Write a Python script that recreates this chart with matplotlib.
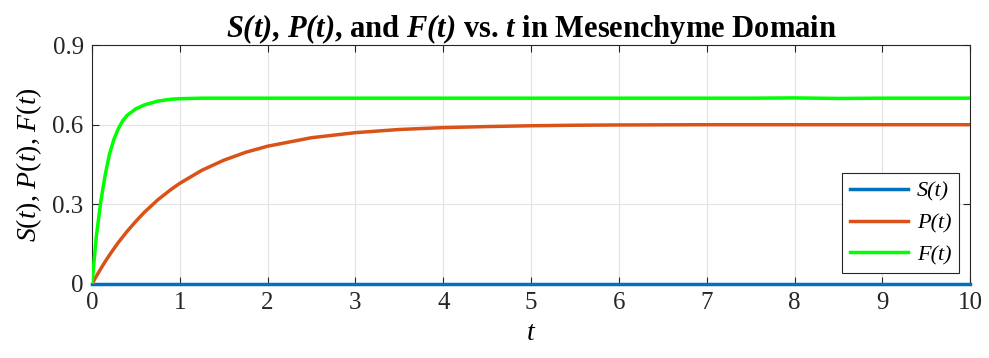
import matplotlib
matplotlib.use("Agg")
import matplotlib.pyplot as plt
import numpy as np

plt.rcParams['font.family'] = ['Liberation Serif', 'DejaVu Serif']
plt.rcParams['mathtext.fontset'] = 'custom'
plt.rcParams['mathtext.rm'] = 'Liberation Serif'
plt.rcParams['mathtext.it'] = 'Liberation Serif:italic'
plt.rcParams['mathtext.bf'] = 'Liberation Serif:bold'
plt.rcParams['mathtext.bfit'] = 'Liberation Serif:italic:bold'

# Data
t_vals = [0, 0.05, 0.1, 0.15, 0.2, 0.25, 0.3, 0.35, 0.4, 0.5, 0.6, 0.75, 0.9, 1.0,
          1.25, 1.5, 1.75, 2.0, 2.5, 3.0, 3.5, 4.0, 4.5, 5.0, 5.5, 6.0, 7.0, 7.5,
          8.0, 8.5, 9.0, 10.0]
S_vals = [0.0] * len(t_vals)
P_vals = [0.0, 0.029, 0.057, 0.084, 0.109, 0.133, 0.156, 0.177, 0.198, 0.236, 0.271,
          0.317, 0.356, 0.379, 0.428, 0.466, 0.496, 0.519, 0.551, 0.570, 0.582,
          0.589, 0.593, 0.596, 0.598, 0.599, 0.600, 0.600, 0.600, 0.600, 0.600, 0.600]
F_vals = [0.0, 0.18, 0.31, 0.41, 0.49, 0.545, 0.585, 0.615, 0.635, 0.66, 0.675,
          0.689, 0.696, 0.698, 0.700, 0.700, 0.700, 0.700, 0.700, 0.700, 0.700,
          0.700, 0.700, 0.700, 0.700, 0.700, 0.700, 0.700, 0.701, 0.699, 0.700, 0.700]

labels = ['S(t)', 'P(t)', 'F(t)']
colors = ['#0072BD', '#D95319', '#00FF00']

fig = plt.figure(figsize=(9.89, 3.58), dpi=100)
ax = fig.add_axes([0.093, 0.207, 0.888, 0.667])

for i, (y, lab, c) in enumerate(zip([S_vals, P_vals, F_vals], labels, colors)):
    ax.plot(t_vals, y, color=c, lw=2.5, label=lab, clip_on=(i != 0), zorder=3)

ax.set_xlim(0, 10)
ax.set_ylim(0, 0.9)
ax.set_xticks(np.arange(0, 11, 1))
ax.set_yticks([0, 0.3, 0.6, 0.9])
ax.set_yticklabels(['0', '0.3', '0.6', '0.9'])
ax.grid(True, color='#e3e3e3', lw=0.8)
ax.set_axisbelow(True)
ax.tick_params(direction='in', top=True, right=True, length=5, width=0.8,
               labelsize=18, colors='#262626', pad=6)
for sp in ax.spines.values():
    sp.set_color('#262626')
    sp.set_linewidth(0.8)

ax.set_xlabel('$t$', fontsize=20, labelpad=5)
ax.set_ylabel('$S(t)$, $P(t)$, $F(t)$', fontsize=20, labelpad=6)
ax.set_title(r'$\mathbfit{S(t)}$, $\mathbfit{P(t)}$, and $\mathbfit{F(t)}$ vs. $\mathbfit{t}$ in Mesenchyme Domain',
             fontsize=22, fontweight='bold', pad=6)

leg = ax.legend(loc='lower right', prop={'size': 16, 'style': 'italic'}, fancybox=False,
                framealpha=1, edgecolor='#262626', handlelength=2.6, borderaxespad=0.5,
                labelspacing=0.5, handletextpad=0.4, borderpad=0.35)
leg.get_frame().set_linewidth(0.8)

fig.savefig('out.png', dpi=100)
